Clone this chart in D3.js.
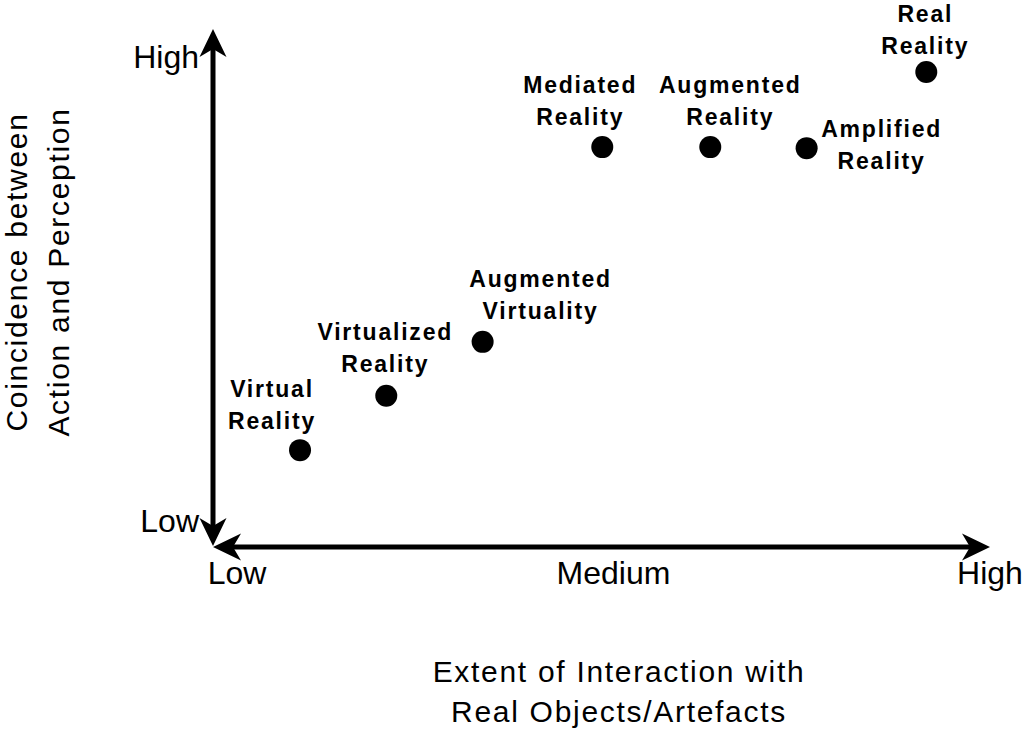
<!DOCTYPE html>
<html lang="en">
<head>
    <meta charset="UTF-8">
    <title>Interaction vs Coincidence</title>
    <script src="https://d3js.org/d3.v7.min.js"></script>
    <style>
        body { margin: 0; background: #fff; }
        svg { display: block; font-family: "Liberation Sans", Arial, sans-serif; }
        .tick-label { font-size: 32px; fill: #000; }
        .axis-title { font-size: 30px; letter-spacing: 1.7px; fill: #000; }
        .point-label { font-size: 23px; font-weight: bold; letter-spacing: 1.8px; fill: #000; }
    </style>
</head>
<body>
    <svg id="chart"></svg>

    <script>
        // data (both axes run 0..10)
        const technologies = ["Virtual Reality", "Virtualized Reality", "Augmented Virtuality",
            "Mediated Reality", "Augmented Reality", "Amplified Reality", "Real Reality"];
        const interaction = [1.12, 2.23, 3.47, 5.01, 6.40, 7.64, 9.18];
        const coincidence = [1.87, 2.92, 3.96, 7.72, 7.72, 7.70, 9.17];

        const xTicks = ["Low", "Medium", "High"];
        const yTicks = ["Low", "High"];
        const xTitle = ["Extent of Interaction with", "Real Objects/Artefacts"];
        const yTitle = ["Coincidence between", "Action and Perception"];

        // label placement relative to its dot (centre x, first baseline)
        const labelOffsets = [[-28, -53], [-1, -56], [58, -55], [-22, -54], [20, -54], [75, -11], [-1, -50]];

        const width = 1022;
        const height = 732;
        const lineH = 32;

        const svg = d3.select('#chart')
            .attr('width', width)
            .attr('height', height);

        const x = d3.scaleLinear().domain([0, 10]).range([213, 990]);
        const y = d3.scaleLinear().domain([0, 10]).range([547, 29]);

        // arrow head pointing along +x, tip at origin
        function arrowHead(px, py, angle) {
            svg.append('path')
                .attr('d', 'M0,0 L-28,-13.5 L-20,0 L-28,13.5 Z')
                .attr('fill', '#000')
                .attr('transform', `translate(${px},${py}) rotate(${angle})`);
        }

        // axes
        svg.append('line')
            .attr('x1', x(0)).attr('x2', x(0))
            .attr('y1', y(0) - 20).attr('y2', y(10) + 20)
            .attr('stroke', '#000').attr('stroke-width', 5);
        svg.append('line')
            .attr('x1', x(0) + 20).attr('x2', x(10) - 20)
            .attr('y1', y(0)).attr('y2', y(0))
            .attr('stroke', '#000').attr('stroke-width', 5);

        arrowHead(x(0), y(10), -90);
        arrowHead(x(0), y(0) - 1, 90);
        arrowHead(x(0), y(0), 180);
        arrowHead(x(10), y(0), 0);

        // tick labels
        const xt = d3.scalePoint().domain(xTicks).range([237, 990]);
        svg.selectAll('text.xtick')
            .data(xTicks)
            .enter().append('text')
            .attr('class', 'tick-label xtick')
            .attr('x', d => xt(d))
            .attr('y', y(0) + 37)
            .attr('text-anchor', 'middle')
            .text(d => d);

        const yt = d3.scalePoint().domain(yTicks).range([y(0) - 15, y(10) + 39]);
        svg.selectAll('text.ytick')
            .data(yTicks)
            .enter().append('text')
            .attr('class', 'tick-label ytick')
            .attr('x', x(0) - 14)
            .attr('y', d => yt(d))
            .attr('text-anchor', 'end')
            .text(d => d);

        // axis titles
        svg.selectAll('text.xtitle')
            .data(xTitle)
            .enter().append('text')
            .attr('class', 'axis-title xtitle')
            .attr('x', 619)
            .attr('y', (d, i) => 682 + i * 40)
            .attr('text-anchor', 'middle')
            .text(d => d);

        svg.selectAll('text.ytitle')
            .data(yTitle)
            .enter().append('text')
            .attr('class', 'axis-title ytitle')
            .attr('transform', (d, i) => `translate(${27 + i * 42},272) rotate(-90)`)
            .attr('text-anchor', 'middle')
            .text(d => d);

        // points
        const points = technologies.map((name, i) => ({
            name: name,
            x: interaction[i],
            y: coincidence[i],
            off: labelOffsets[i]
        }));

        svg.selectAll('circle.dot')
            .data(points)
            .enter().append('circle')
            .attr('class', 'dot')
            .attr('cx', d => x(d.x))
            .attr('cy', d => y(d.y))
            .attr('r', 11)
            .attr('fill', '#000');

        const labels = svg.selectAll('text.point-label')
            .data(points)
            .enter().append('text')
            .attr('class', 'point-label')
            .attr('text-anchor', 'middle');

        labels.selectAll('tspan')
            .data(d => d.name.split(' ').map(w => ({ w: w, p: d })))
            .enter().append('tspan')
            .attr('x', d => x(d.p.x) + d.p.off[0])
            .attr('y', (d, i) => y(d.p.y) + d.p.off[1] + i * lineH)
            .text(d => d.w);
    </script>
</body>
</html>
